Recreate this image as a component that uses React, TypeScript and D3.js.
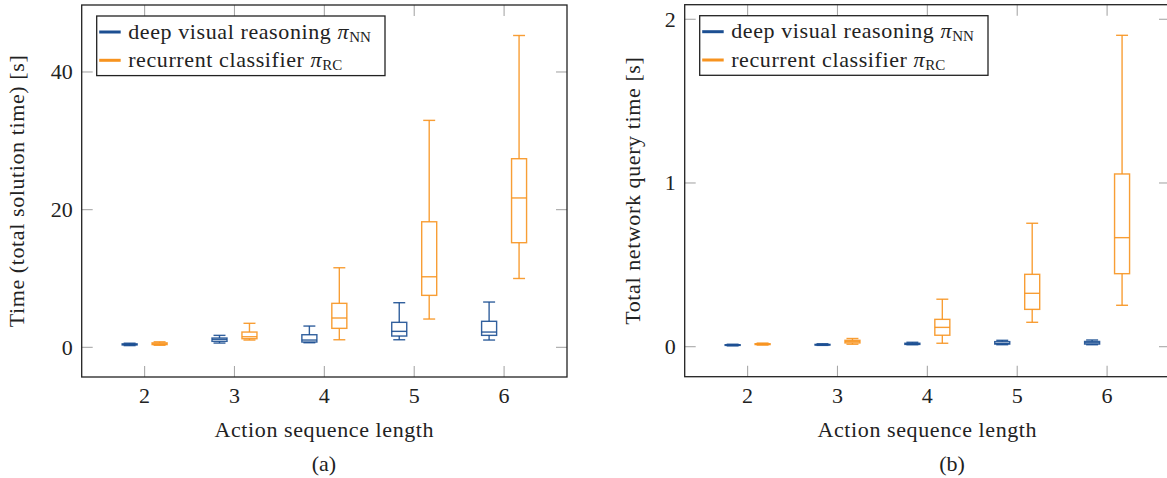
import React from 'react';
import * as d3 from 'd3';

// Box statistics per action-sequence length: [whiskerLow, q1, median, q3, whiskerHigh]
const lengths = [2, 3, 4, 5, 6];

const timeNN = [
  [0.25, 0.35, 0.42, 0.5, 0.6],
  [0.62, 0.87, 1.16, 1.35, 1.74],
  [0.67, 0.77, 1.06, 1.83, 3.09],
  [1.1, 1.64, 2.32, 3.63, 6.48],
  [1.06, 1.74, 2.22, 3.78, 6.58],
];
const timeRC = [
  [0.3, 0.4, 0.5, 0.65, 0.8],
  [1.06, 1.25, 1.54, 2.22, 3.49],
  [1.1, 2.76, 4.26, 6.39, 11.56],
  [4.11, 7.55, 10.25, 18.24, 32.97],
  [10.0, 15.2, 21.7, 27.4, 45.3],
];
const queryNN = [
  [0.005, 0.008, 0.01, 0.012, 0.015],
  [0.008, 0.01, 0.012, 0.014, 0.018],
  [0.012, 0.014, 0.017, 0.021, 0.027],
  [0.012, 0.016, 0.02, 0.031, 0.039],
  [0.012, 0.016, 0.024, 0.032, 0.041],
];
const queryRC = [
  [0.01, 0.013, 0.015, 0.018, 0.022],
  [0.015, 0.023, 0.031, 0.039, 0.05],
  [0.021, 0.07, 0.118, 0.167, 0.29],
  [0.149, 0.228, 0.326, 0.442, 0.754],
  [0.253, 0.446, 0.666, 1.055, 1.902],
];

const timeTicks = [0, 20, 40];
const queryTicks = [0, 1, 2];
const xDomain = [1.3, 6.7];
const timeDomain = [-4.31, 49.73];
const queryDomain = [-0.1833, 2.089];

const BLUE = '#1c4f92';
const ORANGE = '#f7931f';
const FONT = '"Liberation Serif", "Times New Roman", serif';
const FS = 22;
const LS = 0.6;

type PanelProps = {
  left: number;
  right: number;
  top: number;
  bottom: number;
  yDomain: number[];
  yTicks: number[];
  nn: number[][];
  rc: number[][];
  ylabel: string;
  ylabelX: number;
  caption: string;
  captionX: number;
};

function Boxes({ data, offset, color, x, y }: { data: number[][]; offset: number; color: string; x: any; y: any }) {
  const bw = 0.167;
  const cw = 0.133;
  return (
    <g stroke={color} strokeWidth={1.4} fill="none" strokeOpacity={0.9}>
      {data.map((d, i) => {
        const c = lengths[i] + offset;
        const [lo, q1, md, q3, hi] = d;
        return (
          <g key={i}>
            <line x1={x(c)} x2={x(c)} y1={y(hi)} y2={y(q3)} />
            <line x1={x(c)} x2={x(c)} y1={y(q1)} y2={y(lo)} />
            <line x1={x(c - cw / 2)} x2={x(c + cw / 2)} y1={y(hi)} y2={y(hi)} />
            <line x1={x(c - cw / 2)} x2={x(c + cw / 2)} y1={y(lo)} y2={y(lo)} />
            <rect x={x(c - bw / 2)} y={y(q3)} width={x(c + bw / 2) - x(c - bw / 2)} height={Math.max(0.5, y(q1) - y(q3))} />
            <line x1={x(c - bw / 2)} x2={x(c + bw / 2)} y1={y(md)} y2={y(md)} />
          </g>
        );
      })}
    </g>
  );
}

function Panel(p: PanelProps) {
  const x = d3.scaleLinear().domain(xDomain).range([p.left, p.right]);
  const y = d3.scaleLinear().domain(p.yDomain).range([p.bottom, p.top]);
  const tl = 11;
  const cx = (p.left + p.right) / 2;
  const cy = (p.top + p.bottom) / 2;
  const lgL = p.left + 15;
  const lgT = p.top + 11;
  return (
    <g fontFamily={FONT} fontSize={FS} fill="#222">
      {/* ticks */}
      <g stroke="#a8a8a8" strokeWidth={1.1}>
        {lengths.map((v) => (
          <g key={v}>
            <line x1={x(v)} x2={x(v)} y1={p.bottom} y2={p.bottom - tl} />
            <line x1={x(v)} x2={x(v)} y1={p.top} y2={p.top + tl} />
          </g>
        ))}
        {p.yTicks.map((v) => (
          <g key={v}>
            <line x1={p.left} x2={p.left + tl} y1={y(v)} y2={y(v)} />
            <line x1={p.right} x2={p.right - tl} y1={y(v)} y2={y(v)} />
          </g>
        ))}
      </g>
      <Boxes data={p.nn} offset={-1 / 6} color={BLUE} x={x} y={y} />
      <Boxes data={p.rc} offset={1 / 6} color={ORANGE} x={x} y={y} />
      <rect x={p.left} y={p.top} width={p.right - p.left} height={p.bottom - p.top} fill="none" stroke="#222" strokeWidth={1.3} />
      {/* tick labels */}
      {lengths.map((v) => (
        <text key={v} x={x(v)} y={403} textAnchor="middle">{v}</text>
      ))}
      {p.yTicks.map((v) => (
        <text key={v} x={p.left - 9} y={y(v) + 7.5} textAnchor="end">{v}</text>
      ))}
      <text x={cx} y={437} textAnchor="middle" letterSpacing={LS}>Action sequence length</text>
      <text x={p.captionX} y={471} textAnchor="middle">{p.caption}</text>
      <text transform={`translate(${p.ylabelX},${cy}) rotate(-90)`} textAnchor="middle" letterSpacing={LS}>{p.ylabel}</text>
      {/* legend */}
      <rect x={lgL} y={lgT} width={288.3} height={59.6} fill="#fff" stroke="#222" strokeWidth={1.3} />
      <line x1={lgL + 2.5} x2={lgL + 24} y1={lgT + 16} y2={lgT + 16} stroke={BLUE} strokeWidth={3} />
      <line x1={lgL + 2.5} x2={lgL + 24} y1={lgT + 44.3} y2={lgT + 44.3} stroke={ORANGE} strokeWidth={3} />
      <text x={lgL + 31.5} y={lgT + 22.5} letterSpacing={LS}>
        deep visual reasoning <tspan fontStyle="italic">π</tspan>
        <tspan fontSize={15} dy={3} letterSpacing={0}>NN</tspan>
      </text>
      <text x={lgL + 31.5} y={lgT + 50.8} letterSpacing={LS}>
        recurrent classifier <tspan fontStyle="italic">π</tspan>
        <tspan fontSize={15} dy={3} letterSpacing={0}>RC</tspan>
      </text>
    </g>
  );
}

export default function App() {
  return (
    <svg width={1167} height={478} style={{ position: 'absolute', left: 0, top: 0, background: '#fff' }}>
      <rect width={1167} height={478} fill="#fff" />
      <Panel left={81.7} right={567} top={5} bottom={377} yDomain={timeDomain} yTicks={timeTicks}
        nn={timeNN} rc={timeRC} ylabel="Time (total solution time) [s]" ylabelX={24} caption="(a)" captionX={324} />
      <Panel left={684.7} right={1170} top={4.7} bottom={376.7} yDomain={queryDomain} yTicks={queryTicks}
        nn={queryNN} rc={queryRC} ylabel="Total network query time [s]" ylabelX={640} caption="(b)" captionX={952} />
    </svg>
  );
}
